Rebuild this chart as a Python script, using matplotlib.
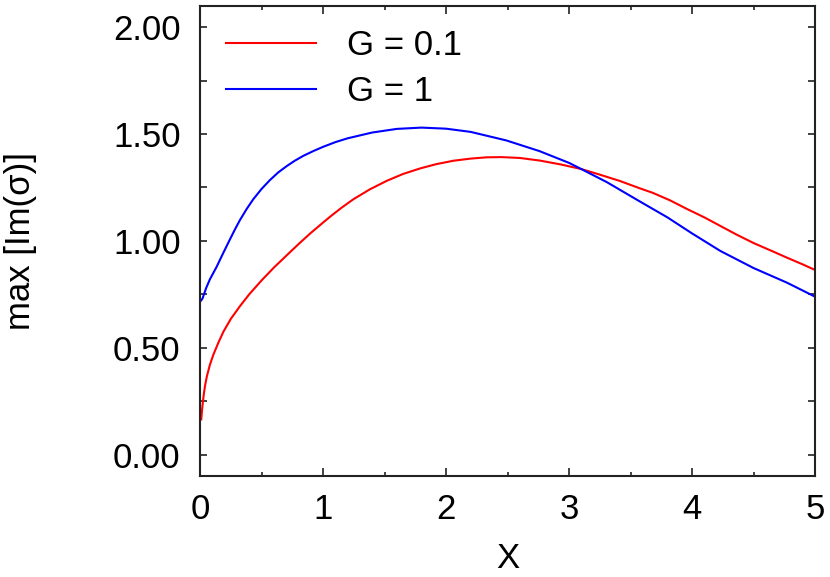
import numpy as np
import matplotlib.pyplot as plt
from matplotlib.ticker import MultipleLocator, FormatStrFormatter

# values
x_red = [0.01, 0.015, 0.02, 0.03, 0.04, 0.055, 0.08, 0.11, 0.15, 0.19, 0.25, 0.325,
         0.4, 0.5, 0.6, 0.7, 0.81, 0.9, 0.976, 1.057, 1.15, 1.247, 1.38, 1.518, 1.65,
         1.789, 1.92, 2.06, 2.2, 2.33, 2.45, 2.6, 2.76, 2.93, 3.1, 3.25, 3.41, 3.58,
         3.68, 3.82, 3.96, 4.1, 4.23, 4.36, 4.5, 4.64, 4.77, 4.9, 5.0]
g01 = [0.165, 0.20, 0.23, 0.28, 0.32, 0.365, 0.42, 0.47, 0.525, 0.575, 0.635, 0.695,
       0.75, 0.815, 0.875, 0.93, 0.99, 1.037, 1.074, 1.113, 1.155, 1.195, 1.241,
       1.281, 1.313, 1.339, 1.359, 1.375, 1.385, 1.391, 1.392, 1.388, 1.376, 1.358,
       1.336, 1.31, 1.281, 1.245, 1.225, 1.19, 1.149, 1.11, 1.07, 1.03, 0.99, 0.955,
       0.922, 0.89, 0.864]

x_blue = [0.0, 0.02, 0.05, 0.08, 0.136, 0.19, 0.244, 0.285, 0.325, 0.38, 0.433, 0.5,
          0.569, 0.635, 0.705, 0.77, 0.84, 0.92, 1.0, 1.1, 1.2, 1.4, 1.6, 1.8, 2.0,
          2.2, 2.49, 2.76, 3.0, 3.1, 3.31, 3.58, 3.8, 4.0, 4.23, 4.5, 4.77, 5.0]
g1 = [0.715, 0.73, 0.78, 0.82, 0.88, 0.945, 1.008, 1.055, 1.098, 1.15, 1.195, 1.243,
      1.285, 1.32, 1.35, 1.375, 1.398, 1.42, 1.44, 1.462, 1.48, 1.507, 1.524, 1.53,
      1.525, 1.51, 1.47, 1.42, 1.365, 1.336, 1.274, 1.183, 1.11, 1.035, 0.953, 0.873,
      0.805, 0.739]

plt.rcParams['font.family'] = ['Liberation Sans', 'DejaVu Sans']

fig = plt.figure(figsize=(8.3, 5.77), dpi=100)
ax = fig.add_axes([0.241, 0.175, 0.741, 0.815])

ax.plot(x_red, g01, color='#ff0000', lw=1.5, label='G = 0.1')
ax.plot(x_blue, g1, color='#0000ff', lw=1.5, label='G = 1')

ax.set_xlim(0, 5)
ax.set_ylim(-0.1, 2.1)
ax.xaxis.set_major_locator(MultipleLocator(1))
ax.xaxis.set_minor_locator(MultipleLocator(0.5))
ax.yaxis.set_major_locator(MultipleLocator(0.5))
ax.yaxis.set_minor_locator(MultipleLocator(0.25))
ax.yaxis.set_major_formatter(FormatStrFormatter('%.2f'))

for s in ax.spines.values():
    s.set_linewidth(1.5)
    s.set_color('#222222')

ax.tick_params(which='both', direction='in', top=True, right=True,
               labelsize=25, width=1.2, color='#222222')
ax.tick_params(axis='x', which='major', length=6, pad=12)
ax.tick_params(axis='x', which='minor', length=3)
ax.tick_params(axis='y', which='both', length=5, pad=14)

ax.set_xlabel('X', fontsize=25, labelpad=12)
ax.set_ylabel('max [Im(σ)]', fontsize=25, labelpad=55)

ax.legend(loc='upper left', bbox_to_anchor=(0.008, 0.995), frameon=False, fontsize=25,
          handlelength=2.6, handletextpad=0.9, labelspacing=0.38,
          borderaxespad=0.2)

fig.savefig('out.png', dpi=100)
